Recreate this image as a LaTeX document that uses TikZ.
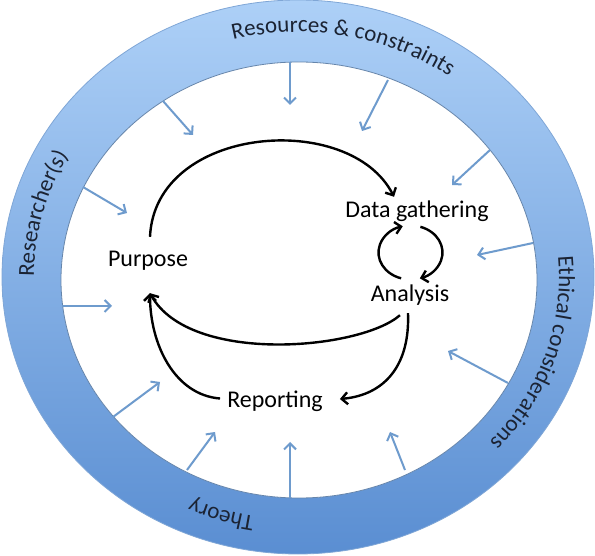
\documentclass[tikz,border=0pt]{standalone}
\usepackage{fontspec}
\setmainfont{Carlito}
\usetikzlibrary{arrows.meta,decorations.text,calc}
\definecolor{ringtop}{HTML}{ADD0F7}
\definecolor{ringbot}{HTML}{5A8ED2}
\definecolor{ringedge}{HTML}{7FA6D6}
\definecolor{bluearrow}{HTML}{6E9BCD}
\definecolor{ringtext}{HTML}{1B2333}
\newcommand\lblfont{\fontsize{24}{28}\selectfont}
\newcommand\ringfont{\fontsize{23}{27}\selectfont}
\begin{document}
\begin{tikzpicture}[x=1pt,y=1pt,
  lbl/.style={font=\lblfont, anchor=base, inner sep=3pt, text height=16pt, text depth=5pt},
  flow/.style={draw=black, line width=2.4pt, -{Straight Barb[length=6pt,width=12pt]}},
  inflow/.style={draw=bluearrow, line width=2pt, -{Straight Barb[length=6pt,width=12pt]}},
  ringlabel/.style={decorate, decoration={text along path, text align=center, text color=ringtext}}
]
\useasboundingbox (0,0) rectangle (595,555);
% ring
\coordinate (oc) at (298,278);
\coordinate (ic) at (299,275);
\path[even odd rule, top color=ringtop, bottom color=ringbot]
  (oc) ellipse [x radius=296, y radius=277]
  (ic) ellipse [x radius=238, y radius=218];
\draw[ringedge, line width=0.8pt] (oc) ellipse [x radius=296, y radius=277];
\draw[ringedge!80!black, line width=0.8pt, fill=white] (ic) ellipse [x radius=238, y radius=218];
% ring labels
\path[ringlabel, decoration={text={|\ringfont|Resources {\&} constraints}}]
  (oc) ++(129.3:263 and 245) arc[start angle=129.3, end angle=29.3, x radius=263, y radius=245];
\path[ringlabel, decoration={text={|\ringfont|Researcher(s)}}]
  (oc) ++(215.7:264 and 246) arc[start angle=215.7, end angle=115.7, x radius=264, y radius=246];
\path[ringlabel, decoration={text={|\ringfont|Ethical considerations}}]
  (oc) ++(32:261 and 243) arc[start angle=32, end angle=-69, x radius=261, y radius=243];
\path[ringlabel, decoration={text={|\ringfont|Theory}}]
  (oc) ++(283:261 and 243) arc[start angle=283, end angle=223, x radius=261, y radius=243];
% inward arrows
\foreach \sx/\sy/\ex/\ey in {290/493/290/450, 388/475/362/424, 490/405/452/370,
   533/312/477/300, 508/172/448/204, 405/85/390/123, 290/57/290/113,
   187/85/215/123, 113/138/160/173, 62/249/112/249, 83/368/127/342, 163/454/193/420}
  \draw[inflow] (\sx,\sy) -- (\ex,\ey);
% labels
\node[lbl] (purpose) at (148,288) {Purpose};
\node[lbl] (data) at (417,337) {Data gathering};
\node[lbl] (analysis) at (410,253) {Analysis};
\node[lbl] (reporting) at (275,147) {Reporting};
% flows
\draw[flow] ($(purpose.north)+(2,11)$) .. controls (155,430) and (350,445) .. ($(data.north)+(-23,2)$);
\coordinate (cyc) at ($(data.south)!0.5!(analysis.north)+(-3,2)$);
\draw[flow] (cyc) ++(253:32 and 27) arc[start angle=253, end angle=104, x radius=32, y radius=27];
\draw[flow] (cyc) ++(72:32 and 27) arc[start angle=72, end angle=-73, x radius=32, y radius=27];
\draw[flow] ($(analysis.south)+(-10,-5)$) .. controls (360,205) and (190,190) .. ($(purpose.south)+(2,-18)$);
\draw[flow] ($(reporting.west)+(-4,4)$) .. controls (175,160) and (150,210) .. ($(purpose.south)+(2,-18)$);
\draw[flow] ($(analysis.south)+(-2,-3)$) .. controls (410,190) and (385,160) .. ($(reporting.east)+(14,3.5)$);
\end{tikzpicture}
\end{document}
